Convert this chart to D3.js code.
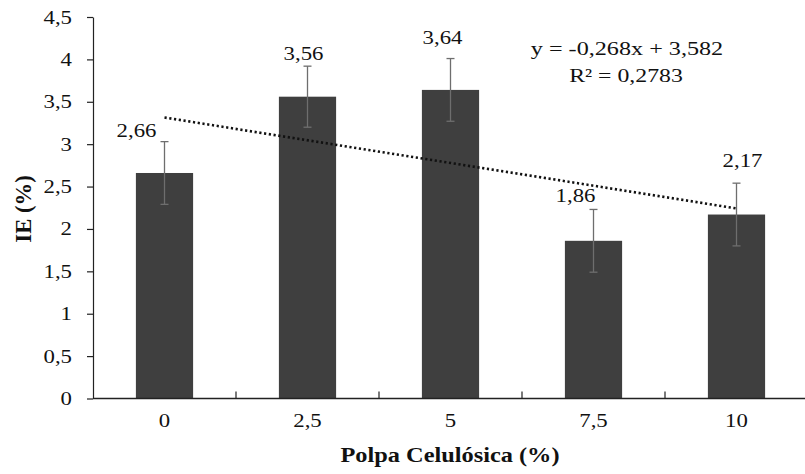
<!DOCTYPE html>
<html>
<head>
<meta charset="utf-8">
<script src="https://cdn.jsdelivr.net/npm/d3@7"></script>
<style>
  html, body { margin: 0; padding: 0; background: #fff; }
  svg { display: block; }
  text { font-family: "Liberation Serif", "Times New Roman", serif; fill: #111; }
</style>
</head>
<body>
<svg id="chart" width="805" height="474"></svg>
<script>
// ---- data ----
const categories = ["0", "2,5", "5", "7,5", "10"];
const values = [2.66, 3.56, 3.64, 1.86, 2.17];
const errors = [0.37, 0.36, 0.37, 0.37, 0.37];
const valueLabels = ["2,66", "3,56", "3,64", "1,86", "2,17"];
const yTicks = [0, 0.5, 1, 1.5, 2, 2.5, 3, 3.5, 4, 4.5];
const yTickLabels = ["0", "0,5", "1", "1,5", "2", "2,5", "3", "3,5", "4", "4,5"];
const trendSlope = -0.268;
const trendIntercept = 3.582;
const equationText = "y = -0,268x + 3,582";
const r2Text = "R² = 0,2783";
const xTitle = "Polpa Celulósica (%)";
const yTitle = "IE (%)";
// manual label nudges (dx, dy from top of error bar), in px
const labelDx = [-28, -4, -8, -18, 6];
const labelDy = [-5, -6, -15, -7, -16];

// ---- layout ----
const svg = d3.select("#chart");
const mLeft = 93, mRight = 808, mTop = 17, mBottom = 398.5;
const SX = 1.2; // horizontal stretch of the text in the reference
const FS = 19;

const x = d3.scaleBand().domain(categories).range([mLeft, mRight]).paddingInner(0.6).paddingOuter(0.3);
const y = d3.scaleLinear().domain([0, 4.5]).range([mBottom, mTop]);
const xc = c => x(c) + x.bandwidth() / 2;

function txt(g, s, px, py, anchor, opts = {}) {
  const t = g.append("text")
    .attr("transform", `translate(${px},${py}) scale(${opts.sx || SX},1)`)
    .attr("text-anchor", anchor)
    .attr("font-size", opts.size || FS)
    .text(s);
  if (opts.bold) t.attr("font-weight", "bold");
  return t;
}

// bars
svg.append("g").selectAll("rect").data(values).join("rect")
  .attr("x", (d, i) => x(categories[i]))
  .attr("y", d => y(d))
  .attr("width", x.bandwidth())
  .attr("height", d => y(0) - y(d))
  .attr("fill", "#3f3f3f");

// error bars
const eg = svg.append("g").attr("stroke", "#6e6e6e").attr("stroke-width", 1.3);
values.forEach((v, i) => {
  const cx = xc(categories[i]);
  const y1 = y(v + errors[i]), y2 = y(v - errors[i]);
  eg.append("line").attr("x1", cx).attr("x2", cx).attr("y1", y1).attr("y2", y2);
  eg.append("line").attr("x1", cx - 4).attr("x2", cx + 4).attr("y1", y1).attr("y2", y1);
  eg.append("line").attr("x1", cx - 4).attr("x2", cx + 4).attr("y1", y2).attr("y2", y2);
});

// trend line (linear regression over category index 1..5)
const trendPts = [0, categories.length - 1]
  .map(i => [xc(categories[i]), y(trendSlope * (i + 1) + trendIntercept)]);
svg.append("path")
  .attr("d", d3.line()(trendPts))
  .attr("fill", "none")
  .attr("stroke", "#111")
  .attr("stroke-width", 2.6)
  .attr("stroke-dasharray", "2.2 2.6");

// axes
const ya = svg.append("g").attr("transform", `translate(${mLeft},0)`)
  .call(d3.axisLeft(y).tickValues(yTicks).tickSize(6).tickSizeOuter(0).tickFormat(""));
ya.select(".domain").attr("stroke", "#222").attr("stroke-width", 1.2);
ya.selectAll(".tick line").attr("stroke", "#222").attr("stroke-width", 1.2);

const xa = svg.append("g").attr("transform", `translate(0,${mBottom})`);
xa.append("line").attr("x1", mLeft).attr("x2", mRight).attr("y1", 0).attr("y2", 0)
  .attr("stroke", "#222").attr("stroke-width", 1.4);
const sepScale = d3.scaleLinear().domain([0, categories.length]).range([mLeft, mRight]);
d3.range(1, categories.length).forEach(k => {
  xa.append("line").attr("x1", sepScale(k)).attr("x2", sepScale(k)).attr("y1", 0).attr("y2", -7)
    .attr("stroke", "#222").attr("stroke-width", 1.2);
});

const tg = svg.append("g");
yTicks.forEach((t, i) => txt(tg, yTickLabels[i], 72, y(t) + 6.5, "end"));
categories.forEach(c => txt(tg, c, xc(c), 427, "middle"));

// value labels
values.forEach((v, i) => {
  const cx = xc(categories[i]);
  txt(tg, valueLabels[i], cx + labelDx[i], y(v + errors[i]) + labelDy[i], "middle");
});

// equation
txt(tg, equationText, 627, 55, "middle", { size: 19.5, sx: 1.24 });
txt(tg, r2Text, 626, 82, "middle", { size: 19.5, sx: 1.22 });

// titles
txt(tg, xTitle, 450, 462, "middle", { bold: true, size: 21, sx: 1.16 });
svg.append("text")
  .attr("transform", `translate(31,209) rotate(-90) scale(1.08,1.12)`)
  .attr("text-anchor", "middle")
  .attr("font-size", 21)
  .attr("font-weight", "bold")
  .text(yTitle);
</script>
</body>
</html>
